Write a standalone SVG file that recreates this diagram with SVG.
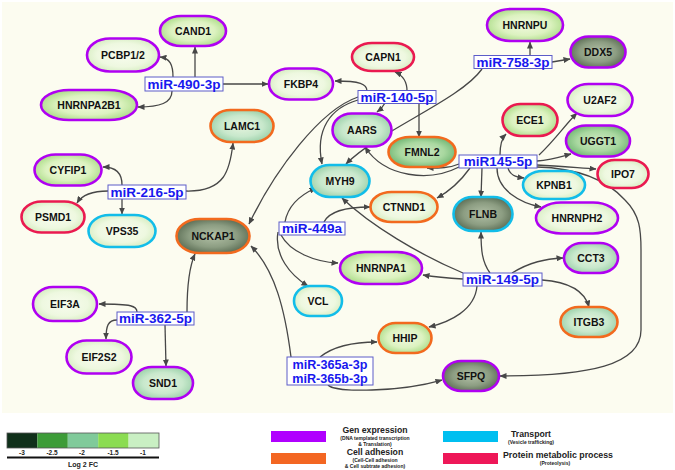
<svg xmlns="http://www.w3.org/2000/svg" width="675" height="470" viewBox="0 0 675 470">
<defs>
<radialGradient id="g1" cx="50%" cy="50%" r="60%"><stop offset="0" stop-color="#f8fcee"/><stop offset="0.6" stop-color="#eef8e0"/><stop offset="1" stop-color="#cfeab8"/></radialGradient>
<radialGradient id="g15" cx="50%" cy="50%" r="60%"><stop offset="0" stop-color="#f2fadf"/><stop offset="0.55" stop-color="#dcf2c0"/><stop offset="1" stop-color="#9fd77a"/></radialGradient>
<radialGradient id="g2" cx="50%" cy="50%" r="60%"><stop offset="0" stop-color="#e6f4de"/><stop offset="0.55" stop-color="#c8e8cc"/><stop offset="1" stop-color="#8fcaa0"/></radialGradient>
<radialGradient id="g25" cx="50%" cy="50%" r="60%"><stop offset="0" stop-color="#cfe9c2"/><stop offset="0.55" stop-color="#a9d8a0"/><stop offset="1" stop-color="#62ad68"/></radialGradient>
<radialGradient id="g3" cx="50%" cy="50%" r="60%"><stop offset="0" stop-color="#b2c0a6"/><stop offset="0.55" stop-color="#8c9d82"/><stop offset="1" stop-color="#4f6149"/></radialGradient>
<marker id="ah" markerWidth="7" markerHeight="6" refX="6.5" refY="3" orient="auto" markerUnits="userSpaceOnUse"><path d="M0,0 L7,3 L0,6 z" fill="#474747"/></marker>
<style>
.n rect{stroke-width:2.6}
.p rect{stroke:#b000f2}
.o rect{stroke:#f26a1e}
.c rect{stroke:#12bde9}
.r rect{stroke:#ea1a50}
.n text{font-family:"Liberation Sans",Arial,sans-serif;font-weight:bold;font-size:10.5px;fill:#111;text-anchor:middle}
.m rect{fill:#ffffff;stroke:#5c5cc8;stroke-width:1}
.m text{font-family:"Liberation Sans",Arial,sans-serif;font-weight:bold;font-size:13.5px;fill:#1818ee;text-anchor:middle}
#edges path{fill:none;stroke:#474747;stroke-width:1.3;marker-end:url(#ah)}
.lg{font-family:"Liberation Sans",Arial,sans-serif;font-weight:bold;fill:#222;text-anchor:middle}
</style>
</defs>
<rect x="0" y="0" width="675" height="470" fill="#ffffff"/>
<rect x="2" y="2" width="671" height="411" fill="#fcfcf0"/>

<g id="edges">
<!-- miR-490-3p -->
<path d="M195,77 L195,47"/>
<path d="M173,77 C173,65 170,58 160,57"/>
<path d="M172,91 C172,103 160,107 138,107"/>
<path d="M223,84 L268,84"/>
<!-- miR-140-5p -->
<path d="M367,91 C367,84 360,81 335,81"/>
<path d="M407,91 C407,80 402,75 395,72"/>
<path d="M385,103 C383,107 381,109 377,112"/>
<path d="M419,103 L419,137"/>
<path d="M358,100 C330,108 315,130 322,164"/>
<path d="M358,97 C320,110 275,170 249,224"/>
<!-- miR-758-3p -->
<path d="M530,56 L530,42"/>
<path d="M552,62 C558,61 564,60 570,59"/>
<path d="M482,69 C460,100 380,130 346,164"/>
<!-- miR145-5p -->
<path d="M500,155 C500,145 502,138 506,134"/>
<path d="M539,155 C555,140 565,125 577,113"/>
<path d="M537,161 C550,160 560,157 571,154"/>
<path d="M537,165 C560,166 580,168 596,169"/>
<path d="M537,167 C575,168 605,178 625,200 C640,215 641,230 641,250 L641,330 C641,365 590,376 500,376"/>
<path d="M508,168 C510,175 515,177 524,178"/>
<path d="M497,168 C497,190 520,203 541,207"/>
<path d="M482,168 L481,197"/>
<path d="M470,168 C460,182 448,192 437,198"/>
<path d="M459,164 C450,168 440,168 427,168"/>
<path d="M459,167 C430,182 385,178 365,147"/>
<!-- miR-149-5p -->
<path d="M490,273 C482,262 481,250 481,232"/>
<path d="M512,273 C530,262 545,259 563,258"/>
<path d="M542,280 C570,282 585,292 589,307"/>
<path d="M463,279 C445,278 435,277 423,275"/>
<path d="M477,286 C475,310 450,322 429,327"/>
<path d="M463,273 C420,255 370,225 342,198"/>
<!-- miR-449a -->
<path d="M285,222 C288,205 300,195 316,188"/>
<path d="M324,222 C330,210 350,207 370,207"/>
<path d="M281,235 C290,252 315,262 338,263"/>
<path d="M278,232 C274,255 290,275 308,286"/>
<!-- miR-365a/b-3p -->
<path d="M291,357 C285,310 275,270 251,246"/>
<path d="M320,357 C335,345 355,342 377,342"/>
<path d="M328,385 C335,393 400,392 442,380"/>
<!-- miR-362-5p -->
<path d="M187,312 C187,285 190,265 195,254"/>
<path d="M137,312 C137,306 132,304 99,304"/>
<path d="M117,320 C108,320 106,326 106,339"/>
<path d="M165,325 L166,366"/>
<!-- miR-216-5p -->
<path d="M122,185 C122,172 115,167 103,167"/>
<path d="M108,191 C92,191 82,195 77,203"/>
<path d="M122,199 L122,214"/>
<path d="M186,191 C225,192 230,170 233,143"/>
</g>

<g id="CAND1" class="n p"><rect x="160" y="16" width="66" height="30" rx="21" ry="15" fill="url(#g15)"/><text x="193" y="31" dy="0.35em">CAND1</text></g>
<g id="PCBP1-2" class="n p"><rect x="87" y="38.5" width="72" height="33" rx="23" ry="16.5" fill="url(#g1)"/><text x="123" y="55" dy="0.35em">PCBP1/2</text></g>
<g id="HNRNPA2B1" class="n p"><rect x="41" y="90" width="96" height="30" rx="28" ry="15" fill="url(#g15)"/><text x="89" y="105" dy="0.35em">HNRNPA2B1</text></g>
<g id="FKBP4" class="n p"><rect x="269" y="68.5" width="64" height="31" rx="20" ry="15.5" fill="url(#g1)"/><text x="301" y="84" dy="0.35em">FKBP4</text></g>
<g id="LAMC1" class="n o"><rect x="210.5" y="110" width="63" height="32" rx="20" ry="16" fill="url(#g2)"/><text x="242" y="126" dy="0.35em">LAMC1</text></g>
<g id="CYFIP1" class="n p"><rect x="34.5" y="154.5" width="67" height="31" rx="21" ry="15.5" fill="url(#g15)"/><text x="68" y="170" dy="0.35em">CYFIP1</text></g>
<g id="PSMD1" class="n r"><rect x="21.5" y="201.5" width="63" height="31" rx="20" ry="15.5" fill="url(#g1)"/><text x="53" y="217" dy="0.35em">PSMD1</text></g>
<g id="VPS35" class="n c"><rect x="88.5" y="215" width="67" height="32" rx="21" ry="16" fill="url(#g1)"/><text x="122" y="231" dy="0.35em">VPS35</text></g>
<g id="NCKAP1" class="n o"><rect x="176.5" y="219" width="73" height="34" rx="23" ry="17" fill="url(#g3)"/><text x="213" y="236" dy="0.35em">NCKAP1</text></g>
<g id="EIF3A" class="n p"><rect x="33" y="287" width="64" height="34" rx="20" ry="17" fill="url(#g1)"/><text x="65" y="304" dy="0.35em">EIF3A</text></g>
<g id="EIF2S2" class="n p"><rect x="66.5" y="340.5" width="65" height="33" rx="20" ry="16.5" fill="url(#g1)"/><text x="99" y="357" dy="0.35em">EIF2S2</text></g>
<g id="SND1" class="n p"><rect x="133" y="367" width="60" height="32" rx="19" ry="16" fill="url(#g2)"/><text x="163" y="383" dy="0.35em">SND1</text></g>
<g id="VCL" class="n c"><rect x="294" y="286" width="48" height="30" rx="16" ry="15" fill="url(#g1)"/><text x="318" y="301" dy="0.35em">VCL</text></g>
<g id="MYH9" class="n c"><rect x="310.5" y="165" width="59" height="32" rx="19" ry="16" fill="url(#g2)"/><text x="340" y="181" dy="0.35em">MYH9</text></g>
<g id="AARS" class="n p"><rect x="332.5" y="113.5" width="59" height="33" rx="19" ry="16.5" fill="url(#g2)"/><text x="362" y="130" dy="0.35em">AARS</text></g>
<g id="CAPN1" class="n r"><rect x="352" y="43" width="62" height="28" rx="20" ry="14" fill="url(#g1)"/><text x="383" y="57" dy="0.35em">CAPN1</text></g>
<g id="HNRNPU" class="n p"><rect x="487" y="9" width="76" height="32" rx="24" ry="16" fill="url(#g15)"/><text x="525" y="25" dy="0.35em">HNRNPU</text></g>
<g id="DDX5" class="n p"><rect x="570.5" y="36.5" width="55" height="31" rx="18" ry="15.5" fill="url(#g3)"/><text x="598" y="52" dy="0.35em">DDX5</text></g>
<g id="U2AF2" class="n p"><rect x="567.5" y="84" width="65" height="32" rx="21" ry="16" fill="url(#g1)"/><text x="600" y="100" dy="0.35em">U2AF2</text></g>
<g id="ECE1" class="n r"><rect x="502.5" y="104" width="55" height="32" rx="18" ry="16" fill="url(#g15)"/><text x="530" y="120" dy="0.35em">ECE1</text></g>
<g id="UGGT1" class="n p"><rect x="566" y="125.5" width="64" height="31" rx="20" ry="15.5" fill="url(#g25)"/><text x="598" y="141" dy="0.35em">UGGT1</text></g>
<g id="FMNL2" class="n o"><rect x="388.5" y="137" width="67" height="30" rx="21" ry="15" fill="url(#g25)"/><text x="422" y="152" dy="0.35em">FMNL2</text></g>
<g id="IPO7" class="n r"><rect x="597.5" y="160" width="51" height="28" rx="17" ry="14" fill="url(#g1)"/><text x="623" y="174" dy="0.35em">IPO7</text></g>
<g id="KPNB1" class="n c"><rect x="523" y="171" width="62" height="28" rx="20" ry="14" fill="url(#g1)"/><text x="554" y="185" dy="0.35em">KPNB1</text></g>
<g id="CTNND1" class="n o"><rect x="370.5" y="192" width="67" height="30" rx="21" ry="15" fill="url(#g1)"/><text x="404" y="207" dy="0.35em">CTNND1</text></g>
<g id="FLNB" class="n c"><rect x="453.5" y="197" width="59" height="34" rx="19" ry="17" fill="url(#g3)"/><text x="483" y="214" dy="0.35em">FLNB</text></g>
<g id="HNRNPH2" class="n p"><rect x="536" y="202.5" width="82" height="31" rx="25" ry="15.5" fill="url(#g1)"/><text x="577" y="218" dy="0.35em">HNRNPH2</text></g>
<g id="CCT3" class="n p"><rect x="564" y="243" width="54" height="30" rx="18" ry="15" fill="url(#g2)"/><text x="591" y="258" dy="0.35em">CCT3</text></g>
<g id="HNRNPA1" class="n p"><rect x="340" y="252" width="82" height="32" rx="25" ry="16" fill="url(#g15)"/><text x="381" y="268" dy="0.35em">HNRNPA1</text></g>
<g id="ITGB3" class="n o"><rect x="560.5" y="307" width="57" height="30" rx="18" ry="15" fill="url(#g2)"/><text x="589" y="322" dy="0.35em">ITGB3</text></g>
<g id="HHIP" class="n o"><rect x="378.5" y="323" width="53" height="30" rx="17" ry="15" fill="url(#g15)"/><text x="405" y="338" dy="0.35em">HHIP</text></g>
<g id="SFPQ" class="n p"><rect x="443" y="361" width="56" height="30" rx="18" ry="15" fill="url(#g3)"/><text x="471" y="376" dy="0.35em">SFPQ</text></g>

<g id="miR-490-3p" class="m"><rect x="145" y="77" width="78" height="14"/><text x="184" y="84" dy="0.36em">miR-490-3p</text></g>
<g id="miR-140-5p" class="m"><rect x="358" y="90.5" width="78" height="13"/><text x="397" y="97" dy="0.36em">miR-140-5p</text></g>
<g id="miR-758-3p" class="m"><rect x="474" y="55.5" width="78" height="13"/><text x="513" y="62" dy="0.36em">miR-758-3p</text></g>
<g id="miR145-5p" class="m"><rect x="459" y="155" width="78" height="13"/><text x="498" y="161.5" dy="0.36em">miR145-5p</text></g>
<g id="miR-216-5p" class="m"><rect x="108" y="185" width="78" height="14"/><text x="147" y="192" dy="0.36em">miR-216-5p</text></g>
<g id="miR-449a" class="m"><rect x="279" y="222" width="66" height="13"/><text x="312" y="228.5" dy="0.36em">miR-449a</text></g>
<g id="miR-149-5p" class="m"><rect x="463" y="273" width="79" height="13"/><text x="502.5" y="279.5" dy="0.36em">miR-149-5p</text></g>
<g id="miR-362-5p" class="m"><rect x="117" y="312" width="77" height="13"/><text x="155.5" y="318.5" dy="0.36em">miR-362-5p</text></g>
<g id="miR-365" class="m"><rect x="287" y="357" width="86" height="28"/><text x="330" y="368.5" style="font-size:12.6px">miR-365a-3p</text><text x="330" y="382.5" style="font-size:12.6px">miR-365b-3p</text></g>

<g id="legend">
<rect x="7" y="433" width="30.4" height="15" fill="#10301a"/>
<rect x="37.4" y="433" width="30.4" height="15" fill="#3d9c38"/>
<rect x="67.8" y="433" width="30.4" height="15" fill="#80ca9a"/>
<rect x="98.2" y="433" width="30.4" height="15" fill="#8bdc52"/>
<rect x="128.6" y="433" width="30.4" height="15" fill="#c9efc3"/>
<rect x="7" y="433" width="152" height="15" fill="none" stroke="#555" stroke-width="0.8"/>
<text class="lg" x="22" y="455" font-size="6.5">-3</text>
<text class="lg" x="52" y="455" font-size="6.5">-2.5</text>
<text class="lg" x="82" y="455" font-size="6.5">-2</text>
<text class="lg" x="113" y="455" font-size="6.5">-1.5</text>
<text class="lg" x="143" y="455" font-size="6.5">-1</text>
<line x1="7" y1="457.5" x2="159" y2="457.5" stroke="#111" stroke-width="2"/>
<text class="lg" x="83" y="467" font-size="7">Log 2 FC</text>
<rect x="271" y="431" width="55" height="11" fill="#b000ff"/>
<rect x="271" y="453" width="55" height="11" fill="#f36622"/>
<rect x="443" y="431" width="55" height="11" fill="#00bff0"/>
<rect x="443" y="453" width="55" height="11" fill="#ee1758"/>
<text class="lg" x="375" y="433" font-size="8.7">Gen expression</text>
<text class="lg" x="375" y="440" font-size="5">(DNA templated transcription</text>
<text class="lg" x="375" y="445.8" font-size="5">&amp; Translation)</text>
<text class="lg" x="375" y="455" font-size="8.7">Cell adhesion</text>
<text class="lg" x="375" y="462" font-size="5">(Cell-Cell adhesion</text>
<text class="lg" x="375" y="467.8" font-size="5">&amp; Cell subtrate adhesion)</text>
<text class="lg" x="531" y="437" font-size="8.7">Transport</text>
<text class="lg" x="531" y="444" font-size="5">(Vesicle trafficking)</text>
<text class="lg" x="558" y="458" font-size="8.8">Protein metabolic process</text>
<text class="lg" x="555" y="464.8" font-size="5">(Proteolysis)</text>
</g>
</svg>
